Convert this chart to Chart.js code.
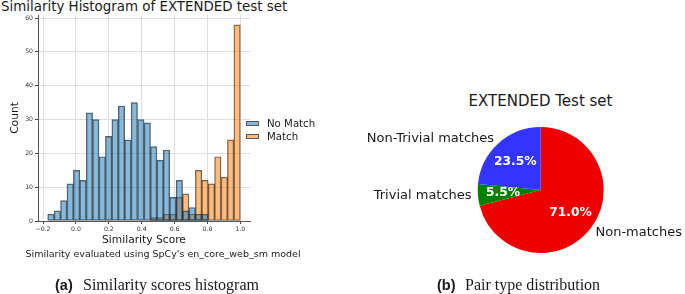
<!DOCTYPE html>
<html>
<head>
<meta charset="utf-8">
<script src="https://cdn.jsdelivr.net/npm/chart.js@4.4.1/dist/chart.umd.min.js"></script>
<style>
  body { margin: 0; background: #fff; width: 685px; height: 294px; position: relative; overflow: hidden;
         font-family: "DejaVu Sans", sans-serif; color: #1a1a1a; }
  .abs { position: absolute; white-space: nowrap; }
  #histCanvas { position: absolute; left: 0; top: 0; }
  #pieCanvas { position: absolute; left: 345px; top: 115px; }
  .legend-row { display: flex; align-items: center; height: 12.7px; font-size: 10.2px; }
  .legend-row span.sw { display: inline-block; width: 11px; height: 3px; border: 1px solid #555; margin-right: 8px; }
  .cap-tag { font-family: "Liberation Sans", Arial, sans-serif; font-weight: bold; font-size: 14.5px; }
  .cap-txt { font-family: "Liberation Serif", "Times New Roman", serif; font-size: 16px; }
</style>
</head>
<body>
<div class="abs" style="left:1px; top:0; line-height:14px; font-size:13.4px;">Similarity Histogram of EXTENDED test set</div>
<canvas id="histCanvas" width="330" height="249"></canvas>
<div id="histLegend" class="abs" style="left:246px; top:117px;"></div>
<div class="abs" style="left:163px; top:247px; line-height:14px; font-size:9.5px; transform:translateX(-50%);">Similarity evaluated using SpCy's en_core_web_sm model</div>

<div class="abs" style="left:540.5px; top:92px; line-height:18px; font-size:15px; transform:translateX(-50%);">EXTENDED Test set</div>
<canvas id="pieCanvas" width="340" height="150"></canvas>

<div class="abs cap-tag" style="left:55px; top:276px; line-height:18px;">(a)</div>
<div class="abs cap-txt" style="left:83px; top:276px; line-height:18px;">Similarity scores histogram</div>
<div class="abs cap-tag" style="left:437px; top:276px; line-height:18px;">(b)</div>
<div class="abs cap-txt" style="left:465px; top:276px; line-height:18px;">Pair type distribution</div>

<script>
// histogram bins (centres of 30 shared bins)
const binCenters = [-0.152, -0.113, -0.074, -0.035, 0.004, 0.043, 0.082, 0.121, 0.160, 0.199,
  0.238, 0.277, 0.316, 0.355, 0.395, 0.434, 0.473, 0.512, 0.551, 0.590,
  0.629, 0.668, 0.707, 0.746, 0.785, 0.824, 0.863, 0.902, 0.941, 0.980];
const noMatchCounts = [2, 3, 6, 11, 15, 12, 32, 30, 19, 25, 30, 34, 24, 35, 30, 29, 22, 18, 21, 7,
  12, 3, 4, 2, 2, 0, 0, 0, 0, 0];
const matchCounts = [0, 0, 0, 0, 0, 0, 0, 0, 0, 0, 0, 0, 0, 0, 0, 0, 1, 1, 2, 2,
  7, 8, 2, 15, 12, 11, 19, 13, 24, 58];
const seriesNames = ["No Match", "Match"];
const xTickValues = [-0.2, 0.0, 0.2, 0.4, 0.6, 0.8, 1.0];
const yTickValues = [0, 10, 20, 30, 40, 50, 60];

// pie
const pieNames = ["Non-matches", "Trivial matches", "Non-Trivial matches"];
const pieShares = [71.0, 5.5, 23.5];

const FONT = '"DejaVu Sans", sans-serif';
const blueFill = "rgba(31,119,180,0.52)";
const orangeFill = "rgba(255,127,14,0.52)";
const edge = "rgba(30,30,30,0.7)";

// Histogram
new Chart(document.getElementById("histCanvas").getContext("2d"), {
  type: "bar",
  data: {
    datasets: [
      {
        label: seriesNames[0],
        data: binCenters.map((x, i) => ({ x: x, y: noMatchCounts[i] })),
        backgroundColor: blueFill,
        borderColor: edge,
        borderWidth: 0.8,
        borderSkipped: false,
      },
      {
        label: seriesNames[1],
        data: binCenters.map((x, i) => ({ x: x, y: matchCounts[i] })),
        backgroundColor: orangeFill,
        borderColor: edge,
        borderWidth: 0.8,
        borderSkipped: false,
      },
    ],
  },
  options: {
    responsive: false,
    animation: false,
    grouped: false,
    barPercentage: 1,
    categoryPercentage: 1,
    layout: { padding: { left: 0, right: 80, top: 15, bottom: 0 } },
    scales: {
      x: {
        type: "linear",
        min: -0.2306,
        max: 1.0586,
        offset: false,
        afterBuildTicks: (s) => { s.ticks = xTickValues.map((v) => ({ value: v })); },
        afterFit: (s) => { s.height = 28; },
        ticks: {
          font: { family: FONT, size: 6.2 },
          color: "#333",
          padding: 2,
          maxRotation: 0,
          callback: (v) => (v < 0 ? "\u2212" + Math.abs(v).toFixed(1) : v.toFixed(1)),
        },
        grid: { offset: false, color: "#dedede", tickColor: "#444", tickLength: 3 },
        border: { color: "#555", width: 1 },
        title: {
          display: true,
          text: "Similarity Score",
          font: { family: FONT, size: 10.7 },
          color: "#1a1a1a",
          padding: { top: 0, bottom: 2 },
        },
      },
      y: {
        min: 0,
        max: 60.9,
        afterBuildTicks: (s) => { s.ticks = yTickValues.map((v) => ({ value: v })); },
        afterFit: (s) => { s.width = 38; },
        ticks: { font: { family: FONT, size: 6.2 }, color: "#333", padding: 2 },
        grid: { color: "#dedede", tickColor: "#444", tickLength: 3 },
        border: { color: "#555", width: 1 },
        title: {
          display: true,
          text: "Count",
          font: { family: FONT, size: 10.7 },
          color: "#1a1a1a",
          padding: { top: 9, bottom: 0 },
        },
      },
    },
    plugins: { legend: { display: false }, tooltip: { enabled: false } },
  },
});

// legend built from the series names
const legendBox = document.getElementById("histLegend");
[blueFill, orangeFill].forEach((c, i) => {
  const row = document.createElement("div");
  row.className = "legend-row";
  row.innerHTML = '<span class="sw" style="background:' + c + '"></span>' + seriesNames[i];
  legendBox.appendChild(row);
});

// Pie: percentage and name labels placed from the arcs
const wedgeText = {
  id: "wedgeText",
  afterDatasetsDraw(chart) {
    const ctx = chart.ctx;
    const total = pieShares.reduce((a, b) => a + b, 0);
    chart.getDatasetMeta(0).data.forEach((arc, i) => {
      const mid = (arc.startAngle + arc.endAngle) / 2;
      const r = arc.outerRadius;
      ctx.save();
      ctx.textBaseline = "middle";
      ctx.font = "bold 12.3px " + FONT;
      ctx.fillStyle = "#fff";
      ctx.textAlign = "center";
      ctx.fillText(((pieShares[i] / total) * 100).toFixed(1) + "%",
        arc.x + Math.cos(mid) * r * 0.6, arc.y + Math.sin(mid) * r * 0.6);
      ctx.font = "13px " + FONT;
      ctx.fillStyle = "#1a1a1a";
      ctx.textAlign = Math.cos(mid) < 0 ? "right" : "left";
      ctx.fillText(pieNames[i], arc.x + Math.cos(mid) * r * 1.1, arc.y + Math.sin(mid) * r * 1.1);
      ctx.restore();
    });
  },
};

new Chart(document.getElementById("pieCanvas").getContext("2d"), {
  type: "pie",
  data: {
    labels: pieNames,
    datasets: [
      {
        data: pieShares,
        backgroundColor: ["#ec0000", "#008000", "#3434ff"],
        borderWidth: 0,
      },
    ],
  },
  options: {
    responsive: false,
    animation: false,
    layout: { padding: { left: 132.7, right: 81.3, top: 12, bottom: 12 } },
    plugins: { legend: { display: false }, tooltip: { enabled: false } },
  },
  plugins: [wedgeText],
});
</script>
</body>
</html>
